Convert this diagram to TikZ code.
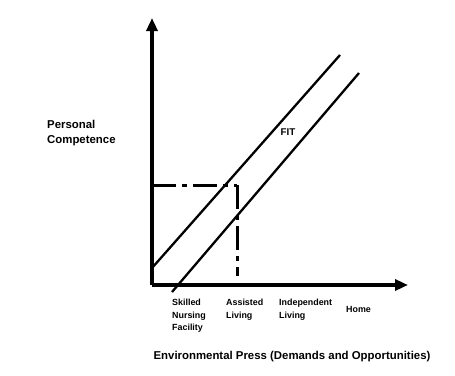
\documentclass[tikz,border=0pt]{standalone}
\usepackage{fontspec}
\setmainfont{Liberation Sans}
\usepackage{tikz}
\usetikzlibrary{arrows.meta,positioning,calc}

\begin{document}
\begin{tikzpicture}[x=1pt,y=-1pt,
        axis/.style={line width=3.4pt, -{Triangle[length=13pt,width=11pt]}},
        fitline/.style={line width=2.3pt},
        guide/.style={line width=3pt, dash pattern=on 24pt off 6pt on 5pt off 6pt},
        lbl/.style={font=\bfseries\fontsize{8.9}{12.5}\selectfont, align=left, anchor=north west, inner sep=0pt},
        ttl/.style={font=\bfseries\fontsize{11.4}{14.5}\selectfont, align=left, inner sep=0pt},
      ]
        \useasboundingbox (0,0) rectangle (455,375);

        % axes
        \coordinate (origin) at (152,285);
        \coordinate (ytop) at (152,18);
        \coordinate (xend) at (408,285);
        \draw[axis] (origin) -- (ytop);
        \draw[axis] (origin) -- (xend);

        % fit band
        \coordinate (upA) at (152,268);
        \coordinate (upB) at (340,55);
        \coordinate (loA) at (172,292);
        \coordinate (loB) at (359,73);
        \draw[fitline] (upA) -- (upB);
        \draw[fitline] (loA) -- (loB);
        \node[font=\bfseries\fontsize{9.8}{11}\selectfont] (fit) at (288,132) {FIT};

        % assisted living guide
        \coordinate (yfit) at (152,185);
        \coordinate (corner) at (237,185);
        \coordinate (xfit) at (237,276);
        \draw[guide] (yfit) -- (corner);
        \draw[guide] (corner) -- (xfit);

        % settings along the x axis
        \node[lbl] (snf) at (172,299) {Skilled\\Nursing\\Facility};
        \node[lbl] (al) at (226,299) {Assisted\\Living};
        \node[lbl] (il) at (279,299) {Independent\\Living};
        \node[lbl] (home) at (346,306) {Home};

        % axis titles
        \node[ttl, anchor=west] (ycap) at (47,133) {Personal\\Competence};
        \node[ttl] (xcap) at (292,357) {Environmental Press (Demands and Opportunities)};
      \end{tikzpicture}
\end{document}
